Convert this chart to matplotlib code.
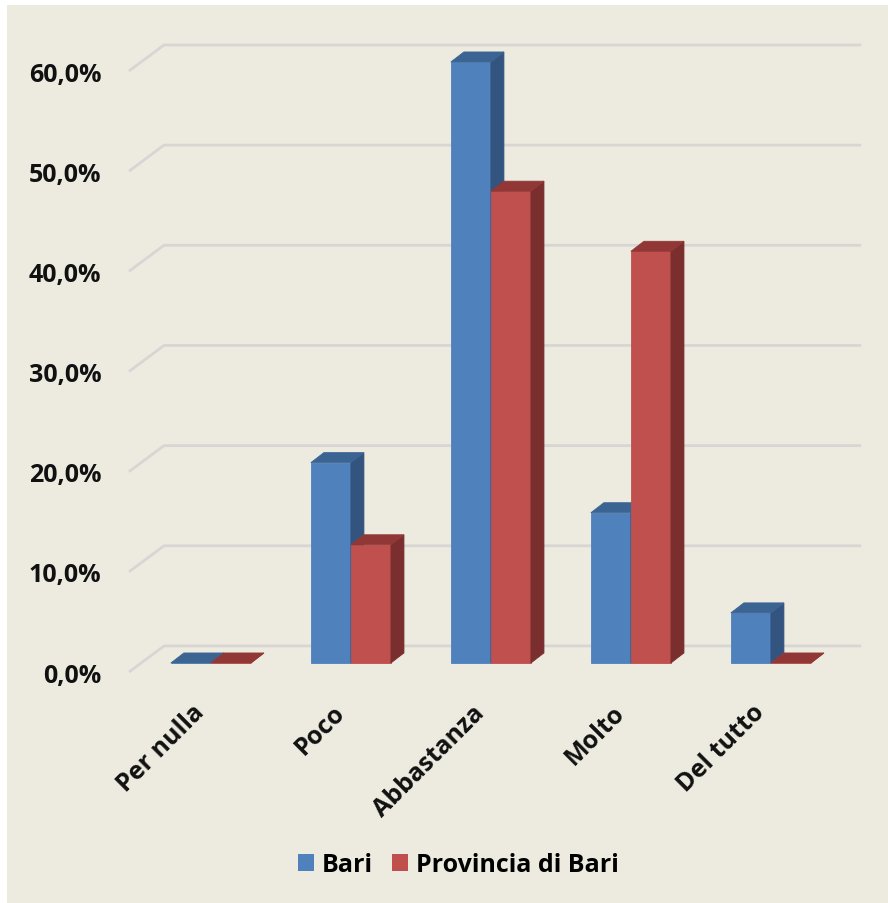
import numpy as np
import matplotlib.pyplot as plt
import matplotlib.transforms as mtransforms
from matplotlib.patches import Polygon, Rectangle, Patch

plt.rcParams['font.family'] = ['Open Sans', 'DejaVu Sans']

categories = ['Per nulla', 'Poco', 'Abbastanza', 'Molto', 'Del tutto']
series = ['Bari', 'Provincia di Bari']
bari = [0.0, 20.0, 60.0, 15.0, 5.0]
provincia = [0.0, 11.8, 47.1, 41.1, 0.0]
yticks = [0, 10, 20, 30, 40, 50, 60]
ytick_labels = ['0,0%', '10,0%', '20,0%', '30,0%', '40,0%', '50,0%', '60,0%']

# colours: front, side, top
blue = ('#4F81BD', '#33547F', '#3C6492')
red = ('#C0504D', '#7A2F2E', '#913836')
bg = '#EDEBE0'
grid_col = '#D7D6D3'

# pseudo 3d geometry (data units: 1 category, 1 percent)
wall_dx, wall_dy = 0.25, 2.6      # floor depth
front_dx, front_dy = 0.085, 0.9   # where the bars sit on the floor
bar_dx, bar_dy = 0.093, 1.0       # bar depth
bar_w = 0.286

fig = plt.figure(figsize=(8.88, 9.04), dpi=100, facecolor='white')
fig.patches.append(Rectangle((7 / 888, 0), 1, 1 - 6 / 904, transform=fig.transFigure,
                             facecolor=bg, edgecolor='none', zorder=-5))

ax = fig.add_axes([129 / 888, 231 / 904, 700 / 888, 601 / 904])
ax.set_xlim(0, 5)
ax.set_ylim(0, 60)
ax.patch.set_visible(False)
for sp in ax.spines.values():
    sp.set_visible(False)

# gridlines on the back wall, with the slant on the left wall
for v in yticks:
    ax.plot([0, wall_dx, 5 + wall_dx - 0.02], [v, v + wall_dy, v + wall_dy],
            color=grid_col, lw=2, clip_on=False, zorder=1, solid_capstyle='butt')


def draw_bar(x0, h, cols):
    front, side, top = cols
    x1 = x0 + bar_w
    y0 = front_dy
    y1 = front_dy + h
    faces = [
        ([(x0, y0), (x1, y0), (x1, y1), (x0, y1)], front),
        ([(x1, y0), (x1 + bar_dx, y0 + bar_dy), (x1 + bar_dx, y1 + bar_dy), (x1, y1)], side),
        ([(x0, y1), (x1, y1), (x1 + bar_dx, y1 + bar_dy), (x0 + bar_dx, y1 + bar_dy)], top),
    ]
    for pts, c in faces:
        ax.add_patch(Polygon(pts, closed=True, facecolor=c, edgecolor=c,
                             lw=0.6, clip_on=False, zorder=3))


for i in range(len(categories)):
    c = i + 0.5 + front_dx
    draw_bar(c - bar_w, bari[i], blue)
    draw_bar(c, provincia[i], red)

ax.set_xticks([])
ax.set_yticks(yticks)
ax.set_yticklabels(ytick_labels, fontsize=18, fontweight='bold', color='#111111')
ax.tick_params(axis='y', length=0, pad=20)

off = mtransforms.ScaledTranslation(0.02, -0.365, fig.dpi_scale_trans)
for i, lab in enumerate(categories):
    ax.text(i + 0.5, 0, lab, transform=ax.transData + off, rotation=45,
            rotation_mode='anchor', ha='right', va='center', fontsize=18,
            fontweight='bold', color='#111111')

handles = [Patch(facecolor=blue[0], edgecolor='none'), Patch(facecolor=red[0], edgecolor='none')]
fig.legend(handles, series, loc='center', bbox_to_anchor=(0.516, 1 - 866 / 904), ncol=2,
           frameon=False, prop={'size': 18, 'weight': 'bold'}, handlelength=0.64,
           handleheight=0.64, handletextpad=0.3, columnspacing=0.8)

fig.savefig('out.png', dpi=100, facecolor='white')
